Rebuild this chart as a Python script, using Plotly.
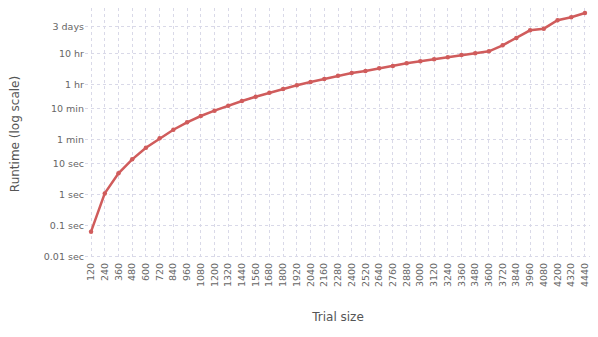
import numpy as np
import plotly.graph_objects as go

trial_size = [str(n) for n in range(120, 4441, 120)]
runtime_sec = [
    0.064, 1.1, 4.9, 13.8, 32.7, 65.6, 124, 215, 343, 509,
    738, 1045, 1439, 1936, 2547, 3350, 4285, 5355, 6790, 8360,
    9690, 11840, 14050, 17170, 19910, 23100, 26800, 31770, 36060, 41800,
    65300, 112200, 198600, 223900, 417800, 522000, 717800,
]
ytick_vals = [0.01, 0.1, 1, 10, 60, 600, 3600, 36000, 259200]
ytick_text = ["0.01 sec", "0.1 sec", "1 sec", "10 sec", "1 min", "10 min",
              "1 hr", "10 hr", "3 days"]

font = "DejaVu Sans, Verdana, sans-serif"
grid = "#d9d9e8"

fig = go.Figure(go.Scatter(
    x=trial_size, y=runtime_sec,
    mode="lines+markers",
    line=dict(color="#d05c5c", width=2.5),
    marker=dict(color="#d05c5c", size=4.5),
))

# page body has an 8px margin, so the figure is a bit smaller than the window
fig.update_layout(
    width=590, height=329,
    margin=dict(l=77, r=7, t=0, b=77),
    paper_bgcolor="white", plot_bgcolor="white",
    font=dict(family=font, color="#666", size=10),
    showlegend=False,
)
fig.update_xaxes(
    type="category", range=[-0.44, 36.44],
    tickangle=-90, tickfont=dict(size=9.5),
    showgrid=True, gridcolor=grid, griddash="dot", gridwidth=1,
    showline=False, zeroline=False, ticks="",
    title=dict(text="Trial size", font=dict(size=12, color="#555"), standoff=26),
)
fig.update_yaxes(
    type="log", range=[-2.106, 6.017],
    tickvals=ytick_vals, ticktext=ytick_text, tickfont=dict(size=9.5),
    showgrid=True, gridcolor=grid, griddash="dot", gridwidth=1,
    showline=False, zeroline=False, ticks="",
    title=dict(text="Runtime (log scale)", font=dict(size=12, color="#555"), standoff=26),
)

fig.write_html("out.html")
